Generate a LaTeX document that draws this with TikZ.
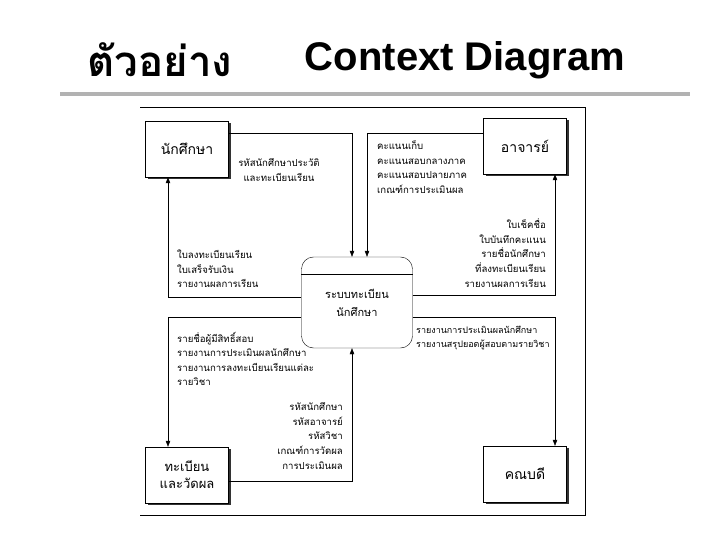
\documentclass[tikz,border=0pt]{standalone}
\usepackage{fontspec}
\setmainfont{Liberation Sans}
\newfontfamily\thai[Script=Thai]{Loma}
\usetikzlibrary{arrows.meta,positioning,calc,shadows}

\begin{document}
\begin{tikzpicture}[x=1pt,y=-1pt,
  ent/.style={draw,thin,fill=white,minimum width=83pt,minimum height=56pt,inner sep=2pt,align=center,
    font=\thai\fontsize{14}{18}\selectfont,drop shadow={shadow xshift=2pt,shadow yshift=-2pt,fill=black!80,opacity=1}},
  proc/.style={draw,thin,fill=white,rounded corners=12pt,minimum width=111pt,minimum height=91pt,
    align=center,font=\thai\fontsize{11}{18}\selectfont},
  flow/.style={-{Triangle[length=6pt,width=4.5pt]},thin},
  lab/.style={font=\thai\fontsize{9.6}{14.6}\selectfont,inner sep=0pt}]
\useasboundingbox (0,0) rectangle (720,540);
\node[font=\thai\bfseries\fontsize{42}{44}\selectfont] (tth) at (160,60) {ตัวอย่าง};
\node[font=\bfseries\fontsize{40}{44}\selectfont] (ten) at (465,60) {Context Diagram};
\draw[line width=4pt,black!30] (60,94) -- (690,94);
\draw[thin] (140,107) -- (585,107) -- (585,515) -- (140,515);

\node[ent] (stu) at (187,149) {นักศึกษา};
\node[ent] (tch) at (525,146) {อาจารย์};
\node[ent,font=\thai\fontsize{13}{17}\selectfont] (reg) at (187,475) {ทะเบียน\\และวัดผล};
\node[ent] (dean) at (525,474) {คณบดี};
\node[proc] (sys) at (357,302.5) {ระบบทะเบียน\\นักศึกษา};
\draw[thin] ([yshift=-17pt]sys.north west) -- ([yshift=-17pt]sys.north east);

\draw[flow] ([yshift=16pt]stu.east) -| ([xshift=-5pt]sys.north);
\draw[flow] ([yshift=13pt]tch.west) -| ([xshift=10pt]sys.north);
\draw[flow] ([yshift=5pt]sys.west) -| ([xshift=-19pt]stu.south);
\draw[flow] ([yshift=7pt]sys.east) -| ([xshift=30pt]tch.south);
\draw[flow] ([yshift=-15pt]sys.east) -| ([xshift=30pt]dean.north);
\draw[flow] ([yshift=-15pt]sys.west) -| ([xshift=-19pt]reg.north);
\draw[flow] ([yshift=-6pt]reg.east) -| ([xshift=-5pt]sys.south);

\node[lab,align=center] (l1) at (279,170) {รหัสนักศึกษาประวัติ\\และทะเบียนเรียน};
\node[lab,align=left,anchor=west] (l2) at (377,167) {คะแนนเก็บ\\คะแนนสอบกลางภาค\\คะแนนสอบปลายภาค\\เกณฑ์การประเมินผล};
\node[lab,align=left,anchor=west] (l3) at (177,269) {ใบลงทะเบียนเรียน\\ใบเสร็จรับเงิน\\รายงานผลการเรียน};
\node[lab,align=right,anchor=east] (l4) at (546,253) {ใบเช็คชื่อ\\ใบบันทึกคะแนน\\รายชื่อนักศึกษา\\ที่ลงทะเบียนเรียน\\รายงานผลการเรียน};
\node[lab,align=left,anchor=west,font=\thai\fontsize{9}{14.6}\selectfont] (l5) at (416,338) {รายงานการประเมินผลนักศึกษา\\รายงานสรุปยอดผู้สอบตามรายวิชา};
\node[lab,align=left,anchor=west] (l6) at (177,359) {รายชื่อผู้มีสิทธิ์สอบ\\รายงานการประเมินผลนักศึกษา\\รายงานการลงทะเบียนเรียนแต่ละ\\รายวิชา};
\node[lab,align=right,anchor=east] (l7) at (343,436) {รหัสนักศึกษา\\รหัสอาจารย์\\รหัสวิชา\\เกณฑ์การวัดผล\\การประเมินผล};
\end{tikzpicture}
\end{document}
